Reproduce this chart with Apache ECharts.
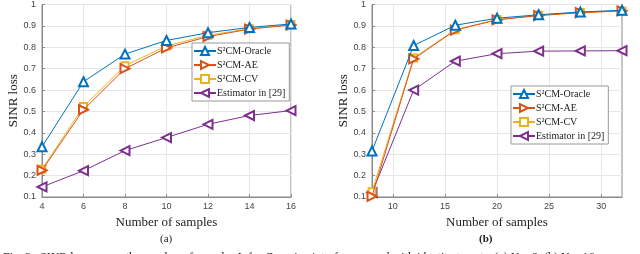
<!DOCTYPE html>
<html>
<head>
<meta charset="utf-8">
<script src="https://cdn.jsdelivr.net/npm/echarts@6/dist/echarts.min.js"></script>
<style>html,body{margin:0;padding:0;background:#fff}#c{width:640px;height:254px}</style>
</head>
<body>
<div id="c"></div>
<script>
// ---- data ----
const samplesA = [4, 6, 8, 10, 12, 14, 16];
const oracleA = [0.335, 0.639, 0.768, 0.832, 0.868, 0.893, 0.909];
const aeA     = [0.225, 0.508, 0.700, 0.797, 0.850, 0.885, 0.904];
const cvA     = [0.230, 0.523, 0.714, 0.806, 0.856, 0.887, 0.906];
const estA    = [0.147, 0.223, 0.317, 0.378, 0.440, 0.481, 0.504];

const samplesB = [8, 12, 16, 20, 24, 28, 32];
const oracleB = [0.315, 0.808, 0.903, 0.936, 0.952, 0.965, 0.973];
const aeB     = [0.103, 0.746, 0.880, 0.928, 0.948, 0.962, 0.970];
const cvB     = [0.125, 0.750, 0.882, 0.930, 0.950, 0.963, 0.970];
const estB    = [0.120, 0.600, 0.735, 0.770, 0.782, 0.783, 0.784];

const xTicksB = [10, 15, 20, 25, 30];
const names = ['S\u00B2CM-Oracle', 'S\u00B2CM-AE', 'S\u00B2CM-CV', 'Estimator in [29]'];
const colors = ['#0072BD', '#D95319', '#EDB120', '#7E2F8E'];
const symbols = ['emptyTriangle', 'emptyTriangle', 'emptyRect', 'emptyTriangle'];
const rotations = [0, -90, 0, 90];
const sizes = [9, 9, 7, 9];

const zip = (xs, ys) => xs.map((x, i) => [x, ys[i]]);
const seriesA = [oracleA, aeA, cvA, estA];
const seriesB = [oracleB, aeB, cvB, estB];

const serif = '"Liberation Serif", "DejaVu Serif", serif';
const sans = '"Liberation Sans", Arial, sans-serif';
const axisCol = '#8a8a8a';

function mkSeries(idx, xs, ys, k) {
  return {
    name: names[k], type: 'line', xAxisIndex: idx, yAxisIndex: idx,
    data: zip(xs, ys), symbol: symbols[k], symbolRotate: rotations[k], symbolSize: sizes[k],
    lineStyle: { color: colors[k], width: 1 },
    itemStyle: { color: colors[k], borderWidth: 1 },
    z: 10 - k, animation: false
  };
}

const yAx = (gi) => ({
  gridIndex: gi, type: 'value', min: 0.1, max: 1, interval: 0.1,
  name: 'SINR loss', nameLocation: 'middle', nameGap: 17,
  nameTextStyle: { fontFamily: serif, fontSize: 13, color: '#222' },
  axisLine: { show: true, lineStyle: { color: axisCol } },
  axisTick: { show: true, inside: true, length: 3, lineStyle: { color: axisCol } },
  axisLabel: { fontFamily: sans, fontSize: 9, color: '#444', margin: 6,
    formatter: v => (Math.round(v * 10) / 10).toString() },
  splitLine: { show: true, lineStyle: { color: '#e6e6e6', width: 1 } }
});

const xName = {
  name: 'Number of samples', nameLocation: 'middle', nameGap: 15,
  nameTextStyle: { fontFamily: serif, fontSize: 13, color: '#222' },
  axisLine: { show: true, lineStyle: { color: axisCol } },
  splitLine: { show: true, lineStyle: { color: '#e6e6e6', width: 1 } }
};

const legendBase = () => ({
  orient: 'vertical', itemGap: 4, itemWidth: 22, itemHeight: 10,
  backgroundColor: '#fff', borderColor: '#999', borderWidth: 1, borderRadius: 0,
  padding: [3, 4, 3, 1],
  textStyle: { fontFamily: serif, fontSize: 10, color: '#222', padding: [0, 0, 0, -4] },
  data: names, selectedMode: false
});

const option = {
  animation: false,
  grid: [
    { left: 42, top: 2, width: 249, height: 195, show: true, borderColor: axisCol, borderWidth: 1 },
    { left: 372, top: 2, width: 250, height: 195, show: true, borderColor: axisCol, borderWidth: 1 }
  ],
  xAxis: [
    Object.assign({ gridIndex: 0, type: 'value', min: 4, max: 16, interval: 2,
      axisTick: { show: true, inside: true, length: 3, lineStyle: { color: axisCol } },
      axisLabel: { fontFamily: sans, fontSize: 9, color: '#444', margin: 5 } }, xName),
    Object.assign({ gridIndex: 1, type: 'value', min: 8, max: 32,
      axisTick: { show: true, inside: true, length: 3, customValues: xTicksB, lineStyle: { color: axisCol } },
      axisLabel: { fontFamily: sans, fontSize: 9, color: '#444', margin: 5, customValues: xTicksB } }, xName)
  ],
  yAxis: [yAx(0), yAx(1)],
  legend: [
    Object.assign(legendBase(), { left: 192, top: 43 }),
    Object.assign(legendBase(), { left: 511, top: 86 })
  ],
  title: [
    { text: '(a)', left: 155, top: 229, textStyle: { fontFamily: serif, fontSize: 11, fontWeight: 'normal', color: '#222' } },
    { text: '(b)', left: 474, top: 229, textStyle: { fontFamily: serif, fontSize: 11, fontWeight: 'bold', color: '#222' } },
    { text: 'Fig. 3.  SINR loss versus the number of samples L for Gaussian interference and with identity targets. (a) N = 8, (b) N = 16.',
      left: -2, top: 247, textStyle: { fontFamily: serif, fontSize: 12, fontWeight: 'normal', color: '#222' } }
  ],
  series: [
    ...seriesA.map((ys, k) => mkSeries(0, samplesA, ys, k)),
    ...seriesB.map((ys, k) => mkSeries(1, samplesB, ys, k))
  ]
};

const chart = echarts.init(document.getElementById('c'), null, { renderer: 'canvas' });
chart.setOption(option);
</script>
</body>
</html>
